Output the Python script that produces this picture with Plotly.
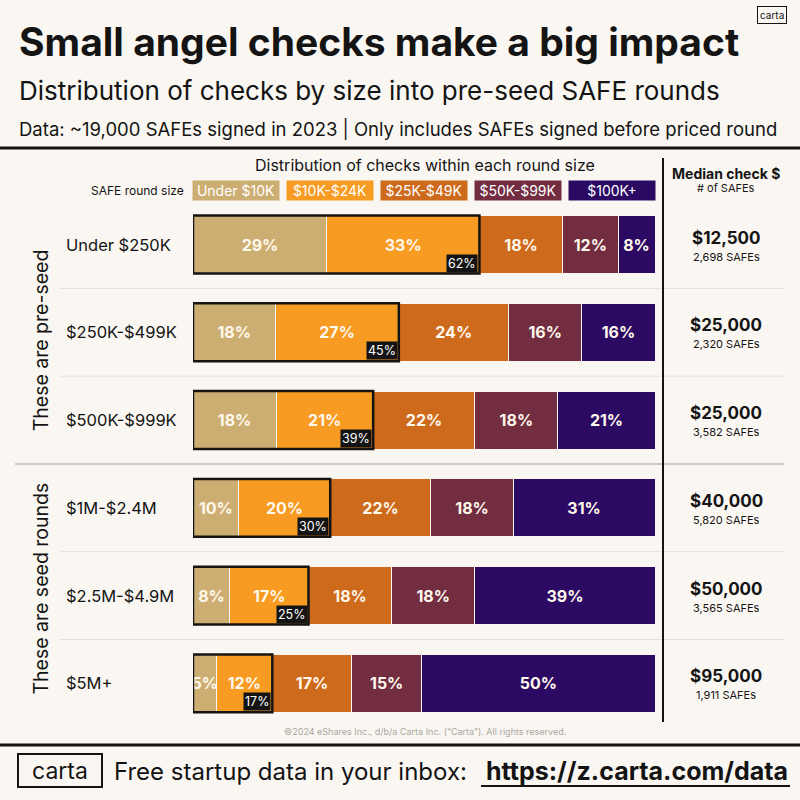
import plotly.graph_objects as go

# round sizes (rows, top to bottom)
rounds = ["Under $250K", "$250K-$499K", "$500K-$999K", "$1M-$2.4M", "$2.5M-$4.9M", "$5M+"]
# check size buckets
buckets = ["Under $10K", "$10K-$24K", "$25K-$49K", "$50K-$99K", "$100K+"]
colors = ["#CDAE72", "#F79B22", "#CE6A1C", "#722D40", "#2C0A64"]

# % of checks in each bucket, per round size
under_10k = [29, 18, 18, 10, 8, 5]
k10_24 = [33, 27, 21, 20, 17, 12]
k25_49 = [18, 24, 22, 22, 18, 17]
k50_99 = [12, 16, 18, 18, 18, 15]
k100_plus = [8, 16, 21, 31, 39, 50]
series = [under_10k, k10_24, k25_49, k50_99, k100_plus]

# share of checks under $25K (highlight boxes)
under_25k = [62, 45, 39, 30, 25, 17]

median_check = ["$12,500", "$25,000", "$25,000", "$40,000", "$50,000", "$95,000"]
n_safes = ["2,698", "2,320", "3,582", "5,820", "3,565", "1,911"]

BG = "#FAF7F2"
INK = "#141414"
FONT = "Inter"


def px(x):
    return x / 800


def py(y):
    return 1 - y / 800


fig = go.Figure()

for name, vals, col in zip(buckets, series, colors):
    fig.add_trace(go.Bar(
        y=rounds, x=vals, name=name, orientation="h",
        marker=dict(color=col, line=dict(color=BG, width=1)),
        text=[f"<b>{v}%</b>" for v in vals],
        textposition="inside", insidetextanchor="middle", textangle=0,
        textfont=dict(family=FONT, size=16, color="#FFF8EC"),
        width=0.66, hoverinfo="skip",
    ))

annotations = []
shapes = []

# highlight boxes around first two buckets
for i, r in enumerate(rounds):
    total = sum(s[i] for s in series)
    edge = (under_10k[i] + k10_24[i]) / total * 100
    shapes.append(dict(type="rect", xref="x", yref="y", x0=0, x1=edge,
                       y0=i - 0.33, y1=i + 0.33,
                       line=dict(color=INK, width=2.5)))
    annotations.append(dict(xref="x", yref="y", x=edge, y=i + 0.33,
                            xanchor="right", yanchor="bottom",
                            text=f"{under_25k[i]}%", showarrow=False,
                            bgcolor=INK, borderpad=1, xshift=-1, yshift=1,
                            font=dict(family=FONT, size=12.5, color="white")))
    # row labels
    annotations.append(dict(xref="paper", yref="y", x=px(64), y=i,
                            xanchor="left", yanchor="middle", text=r,
                            showarrow=False,
                            font=dict(family=FONT, size=16.5, color=INK)))
    # median check + count
    annotations.append(dict(xref="paper", yref="y", x=px(726), y=i,
                            xanchor="center", yanchor="middle",
                            text=f"<b>{median_check[i]}</b>", yshift=7,
                            showarrow=False,
                            font=dict(family=FONT, size=17, color=INK)))
    annotations.append(dict(xref="paper", yref="y", x=px(726), y=i,
                            xanchor="center", yanchor="middle",
                            text=f"{n_safes[i]} SAFEs", yshift=-12,
                            showarrow=False,
                            font=dict(family=FONT, size=11, color=INK)))

# row separators
for b in [0.5, 1.5, 3.5, 4.5]:
    shapes.append(dict(type="line", xref="paper", yref="y", x0=px(60), x1=px(784),
                       y0=b, y1=b, line=dict(color="#E4E0DA", width=1)))
shapes.append(dict(type="line", xref="paper", yref="y", x0=px(15), x1=px(784),
                   y0=2.5, y1=2.5, line=dict(color="#CFCBC5", width=2)))

# group labels
annotations.append(dict(xref="paper", yref="y", x=px(27), y=1, textangle=-90,
                        text="These are pre-seed", showarrow=False, yshift=-8,
                        font=dict(family=FONT, size=19.5, color=INK)))
annotations.append(dict(xref="paper", yref="y", x=px(27), y=4, textangle=-90,
                        text="These are seed rounds", showarrow=False, yshift=7,
                        font=dict(family=FONT, size=19.5, color=INK)))

# lines: header rule, footer rule, median column divider
shapes.append(dict(type="line", xref="paper", yref="paper", x0=0, x1=1,
                   y0=py(148), y1=py(148), line=dict(color=INK, width=3)))
shapes.append(dict(type="line", xref="paper", yref="paper", x0=0, x1=1,
                   y0=py(745), y1=py(745), line=dict(color=INK, width=3)))
shapes.append(dict(type="line", xref="paper", yref="paper", x0=px(663), x1=px(663),
                   y0=py(158), y1=py(722), line=dict(color=INK, width=2)))

# headings
annotations += [
    dict(x=px(17), y=py(42), xanchor="left", yanchor="middle",
         text="<b>Small angel checks make a big impact</b>",
         font=dict(family=FONT, size=39, color=INK)),
    dict(x=px(17), y=py(90), xanchor="left", yanchor="middle",
         text="Distribution of checks by size into pre-seed SAFE rounds",
         font=dict(family=FONT, size=26, color=INK)),
    dict(x=px(17), y=py(129), xanchor="left", yanchor="middle",
         text="Data: ~19,000 SAFEs signed in 2023 | Only includes SAFEs signed before priced round",
         font=dict(family=FONT, size=18.5, color=INK)),
    dict(x=px(772), y=py(15), xanchor="center", yanchor="middle",
         text="carta", bordercolor=INK, borderwidth=1, borderpad=2,
         font=dict(family=FONT, size=10, color=INK)),
    dict(x=px(425), y=py(165), xanchor="center", yanchor="middle",
         text="Distribution of checks within each round size",
         font=dict(family=FONT, size=16, color=INK)),
    dict(x=px(137), y=py(190), xanchor="center", yanchor="middle",
         text="SAFE round size",
         font=dict(family=FONT, size=12, color=INK)),
    dict(x=px(726), y=py(173), xanchor="center", yanchor="middle",
         text="<b>Median check $</b>",
         font=dict(family=FONT, size=14, color=INK)),
    dict(x=px(726), y=py(188), xanchor="center", yanchor="middle",
         text="# of SAFEs",
         font=dict(family=FONT, size=11, color=INK)),
    dict(x=px(425), y=py(731), xanchor="center", yanchor="middle",
         text="\u00a92024 eShares Inc., d/b/a Carta Inc. (\u201cCarta\u201d). All rights reserved.",
         font=dict(family=FONT, size=9, color="#AAA6A0")),
    dict(x=px(60), y=py(770), xanchor="center", yanchor="middle",
         text="carta", bordercolor=INK, borderwidth=2, width=80, height=29,
         font=dict(family=FONT, size=23, color=INK)),
    dict(x=px(112), y=py(771), xanchor="left", yanchor="middle",
         text="Free startup data in your inbox:",
         font=dict(family=FONT, size=24, color=INK)),
    dict(x=px(790), y=py(771), xanchor="right", yanchor="middle",
         text="<b>https://z.carta.com/data</b>",
         font=dict(family=FONT, size=25, color=INK)),
]
shapes.append(dict(type="line", xref="paper", yref="paper", x0=px(481), x1=px(790),
                   y0=py(786), y1=py(786), line=dict(color=INK, width=2)))

# colour key boxes
key_x = [236, 330, 424, 518, 612]
for name, col, kx in zip(buckets, colors, key_x):
    annotations.append(dict(x=px(kx), y=py(190), xanchor="center", yanchor="middle",
                            text=name, bgcolor=col, width=84, height=17,
                            font=dict(family=FONT, size=14, color="white")))

for a in annotations:
    a.setdefault("xref", "paper")
    a.setdefault("yref", "paper")
    a.setdefault("showarrow", False)

fig.update_layout(
    barmode="stack", barnorm="percent",
    width=800, height=800,
    margin=dict(l=0, r=0, t=0, b=0),
    paper_bgcolor=BG, plot_bgcolor=BG,
    showlegend=False,
    uniformtext=dict(minsize=16, mode="show"),
    xaxis=dict(domain=[px(193), px(655)], range=[0, 100], visible=False, fixedrange=True),
    yaxis=dict(domain=[py(732.3), py(200.7)], autorange="reversed", visible=False,
               fixedrange=True),
    annotations=annotations,
    shapes=shapes,
)

# drop the default page margin so the 800px figure fills the window
fig.write_html("out.html", config={"displayModeBar": False},
               post_script="document.body.style.margin='0';")
